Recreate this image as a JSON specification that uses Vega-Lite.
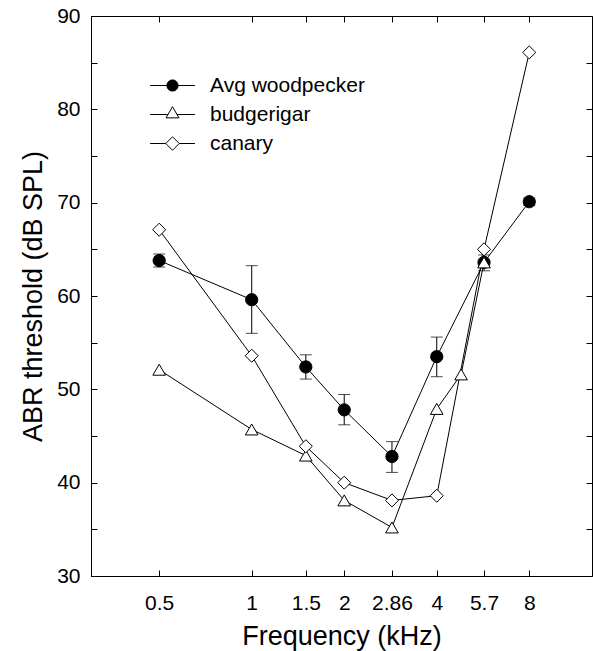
{
  "$schema": "https://vega.github.io/schema/vega-lite/v6.json",
  "width": 501,
  "height": 560,
  "autosize": "none",
  "padding": {"left": 91, "top": 16, "right": 1, "bottom": 75},
  "background": "white",
  "config": {
    "font": "Liberation Sans",
    "view": {"stroke": "black", "strokeWidth": 1},
    "axis": {
      "grid": false,
      "domainColor": "black",
      "tickColor": "black",
      "labelColor": "black",
      "titleColor": "black",
      "labelFont": "Liberation Sans",
      "titleFont": "Liberation Sans",
      "titleFontWeight": "normal",
      "labelOverlap": false,
      "labelFlush": false
    },
    "legend": {
      "orient": "none", "legendX": 71, "legendY": 59, "title": null, "padding": 0,
      "labelFontSize": 21, "labelFont": "Liberation Sans", "labelColor": "black",
      "symbolSize": 126, "symbolStrokeWidth": 1, "symbolStrokeColor": "black",
      "labelOffset": 27, "rowPadding": 7
    }
  },
  "data": {
    "values": [
      {"series": "Avg woodpecker", "freq": 0.5, "value": 63.8, "lo": 63.1, "hi": 64.5},
      {"series": "Avg woodpecker", "freq": 1, "value": 59.6, "lo": 56.0, "hi": 63.25},
      {"series": "Avg woodpecker", "freq": 1.5, "value": 52.4, "lo": 51.1, "hi": 53.7},
      {"series": "Avg woodpecker", "freq": 2, "value": 47.8, "lo": 46.2, "hi": 49.45},
      {"series": "Avg woodpecker", "freq": 2.86, "value": 42.8, "lo": 41.1, "hi": 44.4},
      {"series": "Avg woodpecker", "freq": 4, "value": 53.5, "lo": 51.35, "hi": 55.6},
      {"series": "Avg woodpecker", "freq": 5.7, "value": 63.6, "lo": 62.7, "hi": 64.4},
      {"series": "Avg woodpecker", "freq": 8, "value": 70.1, "lo": 69.7, "hi": 70.5},
      {"series": "budgerigar", "freq": 0.5, "value": 52.1},
      {"series": "budgerigar", "freq": 1, "value": 45.7},
      {"series": "budgerigar", "freq": 1.5, "value": 42.9},
      {"series": "budgerigar", "freq": 2, "value": 38.1},
      {"series": "budgerigar", "freq": 2.86, "value": 35.2},
      {"series": "budgerigar", "freq": 4, "value": 47.9},
      {"series": "budgerigar", "freq": 4.8, "value": 51.6},
      {"series": "budgerigar", "freq": 5.7, "value": 63.6},
      {"series": "canary", "freq": 0.5, "value": 67.1},
      {"series": "canary", "freq": 1, "value": 53.6},
      {"series": "canary", "freq": 1.5, "value": 43.9},
      {"series": "canary", "freq": 2, "value": 40.0},
      {"series": "canary", "freq": 2.86, "value": 38.1},
      {"series": "canary", "freq": 4, "value": 38.6},
      {"series": "canary", "freq": 5.7, "value": 65.0},
      {"series": "canary", "freq": 8, "value": 86.1}
    ]
  },
  "resolve": {
    "scale": {"shape": "independent", "fill": "independent", "size": "independent", "stroke": "independent"},
    "axis": {"x": "independent", "y": "independent"}
  },
  "layer": [
    {
      "mark": {"type": "line", "color": "black", "strokeWidth": 1},
      "encoding": {
        "x": {
          "field": "freq", "type": "quantitative",
          "scale": {"type": "log", "domain": [0.3, 12.8], "nice": false},
          "axis": {
            "orient": "bottom",
            "values": [0.5, 1, 1.5, 2, 2.86, 4, 5.7, 8],
            "format": "~g",
            "tickSize": -6,
            "labelPadding": 22,
            "labelFontSize": 21,
            "title": "Frequency (kHz)",
            "titleFontSize": 27,
            "titleBaseline": "alphabetic",
            "titleY": 68
          }
        },
        "y": {
          "field": "value", "type": "quantitative",
          "scale": {"domain": [30, 90], "nice": false, "zero": false},
          "axis": {
            "orient": "left",
            "values": [30, 35, 40, 45, 50, 55, 60, 65, 70, 75, 80, 85, 90],
            "labelExpr": "datum.value % 10 === 0 ? datum.label : ''",
            "tickSize": -6,
            "labelPadding": 17,
            "labelFontSize": 21,
            "title": "ABR threshold (dB SPL)",
            "titleFontSize": 27,
            "titleBaseline": "alphabetic",
            "titleX": -50,
            "titleY": 280
          }
        },
        "detail": {"field": "series"},
        "order": {"field": "freq"}
      }
    },
    {
      "transform": [{"filter": "datum.series === 'Avg woodpecker'"}],
      "mark": {"type": "errorbar", "ticks": {"size": 12, "color": "black"}, "rule": {"color": "black", "strokeWidth": 1}, "color": "black"},
      "encoding": {
        "x": {"field": "freq", "type": "quantitative", "axis": null},
        "y": {"field": "lo", "type": "quantitative", "axis": null},
        "y2": {"field": "hi"}
      }
    },
    {
      "mark": {"type": "point", "filled": true, "stroke": "black", "strokeWidth": 1, "opacity": 1},
      "encoding": {
        "x": {
          "field": "freq", "type": "quantitative",
          "axis": {"orient": "top", "values": [0.5, 1, 1.5, 2, 2.86, 4, 5.7, 8], "labels": false, "tickSize": -6, "title": null, "domain": false}
        },
        "y": {
          "field": "value", "type": "quantitative",
          "axis": {"orient": "right", "values": [30, 35, 40, 45, 50, 55, 60, 65, 70, 75, 80, 85, 90], "labels": false, "tickSize": -6, "title": null, "domain": false}
        },
        "shape": {"field": "series", "type": "nominal", "scale": {"domain": ["Avg woodpecker", "budgerigar", "canary"], "range": ["circle", "triangle-up", "diamond"]}, "legend": null},
        "fill": {"field": "series", "type": "nominal", "scale": {"domain": ["Avg woodpecker", "budgerigar", "canary"], "range": ["black", "white", "white"]}, "legend": null},
        "size": {"field": "series", "type": "nominal", "scale": {"domain": ["Avg woodpecker", "budgerigar", "canary"], "range": [150, 170, 200]}, "legend": null}
      }
    },
    {
      "transform": [{"filter": "false"}],
      "mark": {"type": "point", "filled": true, "strokeWidth": 1, "opacity": 1},
      "encoding": {
        "x": {"field": "freq", "type": "quantitative", "axis": null},
        "y": {"field": "value", "type": "quantitative", "axis": null},
        "shape": {
          "field": "series", "type": "nominal",
          "scale": {"domain": ["Avg woodpecker", "budgerigar", "canary"], "range": [
            "M-4,0H-1M1,0H4M-1,0A1,1,0,1,0,1,0A1,1,0,1,0,-1,0Z",
            "M-4,0H-0.8M0.8,0H4M0,-1.4L1.15,0.6L-1.15,0.6Z",
            "M-4,0H-1.2M1.2,0H4M-1.2,0L0,-1.2L1.2,0L0,1.2Z"
          ]}
        },
        "fill": {
          "field": "series", "type": "nominal",
          "scale": {"domain": ["Avg woodpecker", "budgerigar", "canary"], "range": ["black", "white", "white"]}
        },
        "stroke": {
          "field": "series", "type": "nominal",
          "scale": {"domain": ["Avg woodpecker", "budgerigar", "canary"], "range": ["black", "black", "black"]}
        }
      }
    }
  ]
}
